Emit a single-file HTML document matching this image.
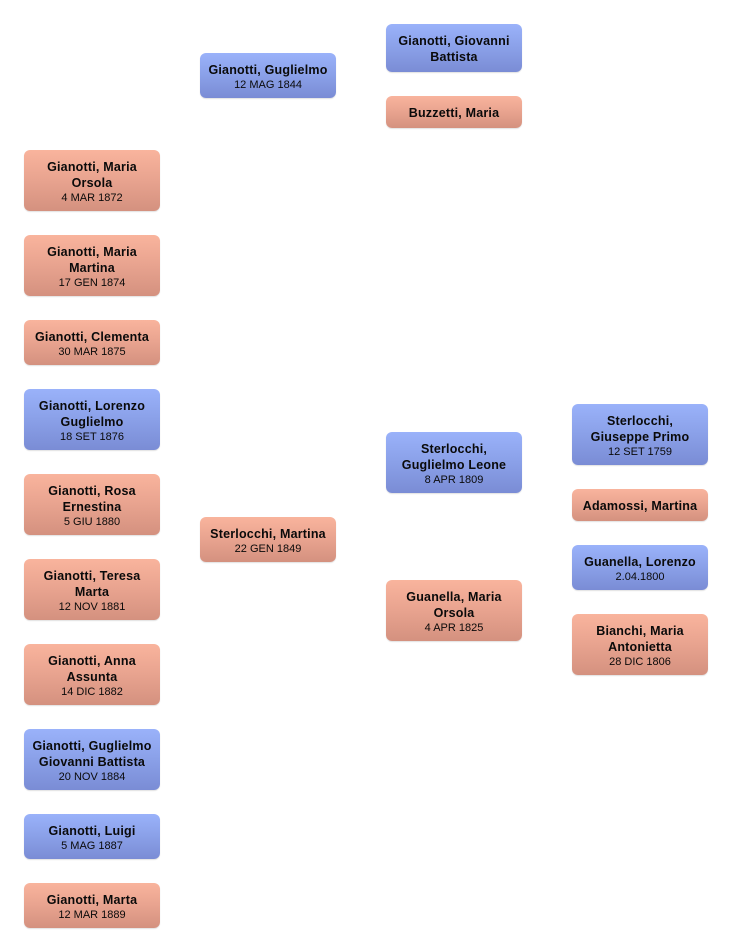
<!DOCTYPE html>
<html>
<head>
<meta charset="utf-8">
<style>
html,body{margin:0;padding:0;background:#fff;}
body{width:732px;height:952px;position:relative;overflow:hidden;font-family:"Liberation Sans",Arial,sans-serif;color:#0a0a0a;}
.b{position:absolute;width:136px;border-radius:6px;box-sizing:border-box;padding:9px 2px 7px 2px;text-align:center;box-shadow:0 1px 1px rgba(0,0,0,0.12);}
.m{background:linear-gradient(to bottom,#9ab2fa 0%,#8aa0e8 50%,#7a8cd5 100%);}
.f{background:linear-gradient(to bottom,#f9b49d 0%,#e8a38f 50%,#d4917f 100%);}
.n{font-weight:bold;font-size:12.5px;line-height:16px;letter-spacing:0.2px;white-space:nowrap;}
.d{font-size:11px;line-height:14px;white-space:nowrap;}
</style>
</head>
<body>
<!-- Column 1 -->
<div class="b f" style="left:24px;top:150px;height:61px"><div class="n">Gianotti, Maria<br>Orsola</div><div class="d">4 MAR 1872</div></div>
<div class="b f" style="left:24px;top:235px;height:61px"><div class="n">Gianotti, Maria<br>Martina</div><div class="d">17 GEN 1874</div></div>
<div class="b f" style="left:24px;top:320px;height:45px"><div class="n">Gianotti, Clementa</div><div class="d">30 MAR 1875</div></div>
<div class="b m" style="left:24px;top:389px;height:61px"><div class="n">Gianotti, Lorenzo<br>Guglielmo</div><div class="d">18 SET 1876</div></div>
<div class="b f" style="left:24px;top:474px;height:61px"><div class="n">Gianotti, Rosa<br>Ernestina</div><div class="d">5 GIU 1880</div></div>
<div class="b f" style="left:24px;top:559px;height:61px"><div class="n">Gianotti, Teresa<br>Marta</div><div class="d">12 NOV 1881</div></div>
<div class="b f" style="left:24px;top:644px;height:61px"><div class="n">Gianotti, Anna<br>Assunta</div><div class="d">14 DIC 1882</div></div>
<div class="b m" style="left:24px;top:729px;height:61px"><div class="n">Gianotti, Guglielmo<br>Giovanni Battista</div><div class="d">20 NOV 1884</div></div>
<div class="b m" style="left:24px;top:814px;height:45px"><div class="n">Gianotti, Luigi</div><div class="d">5 MAG 1887</div></div>
<div class="b f" style="left:24px;top:883px;height:45px"><div class="n">Gianotti, Marta</div><div class="d">12 MAR 1889</div></div>

<!-- Column 2 -->
<div class="b m" style="left:200px;top:53px;height:45px"><div class="n">Gianotti, Guglielmo</div><div class="d">12 MAG 1844</div></div>
<div class="b f" style="left:200px;top:517px;height:45px"><div class="n">Sterlocchi, Martina</div><div class="d">22 GEN 1849</div></div>

<!-- Column 3 -->
<div class="b m" style="left:386px;top:24px;height:48px"><div class="n">Gianotti, Giovanni<br>Battista</div></div>
<div class="b f" style="left:386px;top:96px;height:32px"><div class="n">Buzzetti, Maria</div></div>
<div class="b m" style="left:386px;top:432px;height:61px"><div class="n">Sterlocchi,<br>Guglielmo Leone</div><div class="d">8 APR 1809</div></div>
<div class="b f" style="left:386px;top:580px;height:61px"><div class="n">Guanella, Maria<br>Orsola</div><div class="d">4 APR 1825</div></div>

<!-- Column 4 -->
<div class="b m" style="left:572px;top:404px;height:61px"><div class="n">Sterlocchi,<br>Giuseppe Primo</div><div class="d">12 SET 1759</div></div>
<div class="b f" style="left:572px;top:489px;height:32px"><div class="n">Adamossi, Martina</div></div>
<div class="b m" style="left:572px;top:545px;height:45px"><div class="n">Guanella, Lorenzo</div><div class="d">2.04.1800</div></div>
<div class="b f" style="left:572px;top:614px;height:61px"><div class="n">Bianchi, Maria<br>Antonietta</div><div class="d">28 DIC 1806</div></div>
</body>
</html>
